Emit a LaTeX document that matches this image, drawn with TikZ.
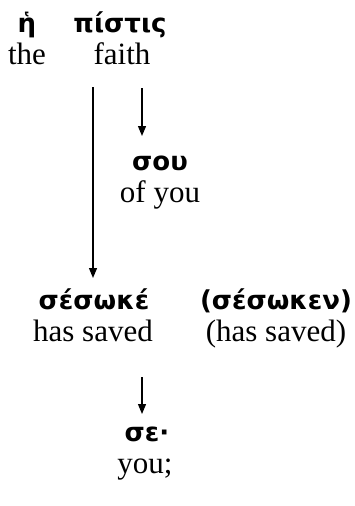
\documentclass[tikz,border=0pt]{standalone}
\usepackage{fontspec}
\setmainfont{Liberation Serif}
\newfontfamily\grk{DejaVu Sans}
\usetikzlibrary{arrows.meta}
\tikzset{
  gk/.style={inner sep=0pt, anchor=base, font=\grk\bfseries\fontsize{26}{31}\selectfont},
  en/.style={inner sep=0pt, anchor=base, font=\fontsize{31}{36}\selectfont},
  arr/.style={line width=1.2pt, -{Triangle[length=10pt,width=8pt]}}
}
\begin{document}
\begin{tikzpicture}[x=1pt,y=-1pt]
\useasboundingbox (0,0) rectangle (354,506);
\node[gk] (h) at (27,32) {ἡ};
\node[gk] (pistis) at (120,32) {πίστις};
\node[en] (the) at (27,64) {the};
\node[en] (faith) at (122,64) {faith};
\coordinate (a1s) at (93,87);
\coordinate (a1e) at (93,278);
\coordinate (a2s) at (142,88);
\coordinate (a2e) at (142,136);
\node[gk] (sou) at (160,170) {σου};
\node[en] (ofyou) at (160,202) {of you};
\node[gk] (sesoke) at (94,309) {σέσωκέ};
\node[en] (hassaved) at (93,341) {has saved};
\node[gk] (sesoken) at (276,309) {(σέσωκεν)};
\node[en] (hassaved2) at (276,341) {(has saved)};
\coordinate (a3s) at (142,377);
\coordinate (a3e) at (142,414);
\node[gk] (se) at (147,441) {σε·};
\node[en] (you) at (145,473) {you;};
\draw[arr] (a1s) -- (a1e);
\draw[arr] (a2s) -- (a2e);
\draw[arr] (a3s) -- (a3e);
\end{tikzpicture}
\end{document}
